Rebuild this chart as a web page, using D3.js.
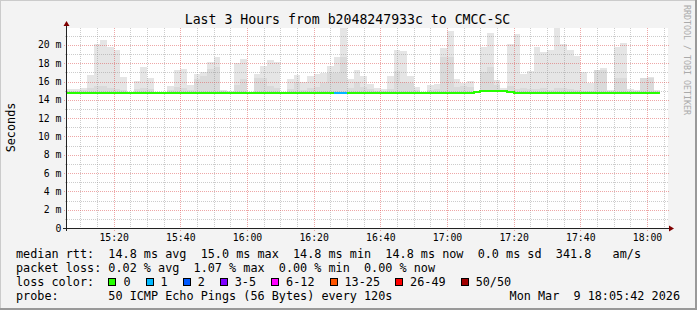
<!DOCTYPE html>
<html>
<head>
<meta charset="utf-8">
<script src="https://cdn.jsdelivr.net/npm/d3@7"></script>
<style>
  html, body { margin: 0; padding: 0; background: #f3f3f3; }
  svg { display: block; }
  text { font-family: "DejaVu Sans Mono", monospace; white-space: pre; }
</style>
</head>
<body>
<script>
// ---- data ----
const title = "Last 3 Hours from b2048247933c to CMCC-SC";
const startTime = new Date(2026, 2, 9, 15, 6, 0);
const endTime = new Date(2026, 2, 9, 18, 6, 0);
const stepMinutes = 2;

// median rtt per 2 min step (ms)
const medianRtt = [
  14.8,14.8,14.8,14.8,14.8,14.8,14.8,14.8,14.8,14.8,
  14.8,14.8,14.8,14.8,14.8,14.8,14.8,14.8,14.8,14.8,
  14.8,14.8,14.8,14.8,14.8,14.8,14.8,14.8,14.8,14.8,
  14.8,14.8,14.8,14.8,14.8,14.8,14.8,14.8,14.8,14.8,
  14.8,14.8,14.8,14.8,14.8,14.8,14.8,14.8,14.8,14.8,
  14.8,14.8,14.8,14.8,14.8,14.8,14.8,14.8,14.8,14.8,
  14.8,14.9,15.0,15.0,15.0,15.0,14.9,14.8,14.8,14.8,
  14.8,14.8,14.8,14.8,14.8,14.8,14.8,14.8,14.8,14.8,
  14.8,14.8,14.8,14.8,14.8,14.8,14.8,14.8,14.8
];

// top of the smoke (slowest ping) per step, ms
const smokeMax = [
  15.19,15.19,15.30,16.72,20.14,20.51,19.78,19.45,16.50,null,
  16.09,17.59,16.39,null,null,15.51,17.26,17.37,15.62,16.83,
  17.04,18.14,18.68,15.11,14.97,18.03,18.46,null,16.83,17.73,
  18.35,18.14,null,16.28,16.72,15.95,16.61,16.83,16.94,17.73,
  18.68,21.85,16.28,17.26,16.61,15.73,15.30,15.19,16.61,19.45,
  19.34,16.61,15.40,null,15.62,15.73,19.67,21.52,16.28,15.84,
  16.06,null,19.78,21.30,16.17,15.30,20.10,21.20,16.83,17.15,
  19.78,19.23,19.45,21.85,20.10,19.45,18.79,17.04,15.84,17.26,
  17.48,15.08,19.78,20.21,15.19,15.08,16.17,16.50,15.08
];

// denser part of the smoke, ms
const smokeMid = [
  15.0,15.0,15.1,15.3,15.5,15.5,15.3,15.2,15.1,null,
  15.2,15.3,15.2,null,null,15.1,15.4,15.3,15.1,16.3,
  16.6,17.4,17.6,14.95,14.9,15.6,16.3,null,16.4,16.4,
  15.5,15.3,null,15.2,15.9,15.1,15.3,15.4,15.8,16.9,
  16.9,18.7,15.3,16.0,15.4,15.2,15.0,15.0,15.2,17.1,
  16.0,15.8,15.1,null,15.1,15.2,18.7,18.7,15.4,15.5,
  15.4,null,17.0,17.6,15.6,15.1,15.5,15.2,15.3,15.2,
  15.2,15.3,15.1,15.3,15.3,15.2,15.1,15.0,15.0,17.3,
  17.3,14.95,16.4,16.4,15.0,14.95,16.4,16.4,14.95
];

// lost pings (of 50) per step
const lossPings = [
  0,0,0,0,0,0,0,0,0,0,
  0,0,0,0,0,0,0,0,0,0,
  0,0,0,0,0,0,0,0,0,0,
  0,0,0,0,0,0,0,0,0,0,
  1,1,0,0,0,0,0,0,0,0,
  0,0,0,0,0,0,0,0,0,0,
  0,0,0,0,0,0,0,0,0,0,
  0,0,0,0,0,0,0,0,0,0,
  0,0,0,0,0,0,0,0,0
];

const lossLabels = ["0", "1", "2", "3-5", "6-12", "13-25", "26-49", "50/50"];
const lossUpper  = [0, 1, 2, 5, 12, 25, 49, 50];
const lossColors = ["#26ff00", "#00b8ff", "#0059ff", "#7e00ff", "#ff00ff", "#ff5500", "#ff0000", "#a10000"];

const yMajorTicks = [0, 2, 4, 6, 8, 10, 12, 14, 16, 18, 20];
const yMinorTicks = [1, 3, 5, 7, 9, 11, 13, 15, 17, 19, 21];
const xTickLabels = ["15:20", "15:40", "16:00", "16:20", "16:40", "17:00", "17:20", "17:40", "18:00"];

const statLine1 = "median rtt:  14.8 ms avg  15.0 ms max  14.8 ms min  14.8 ms now  0.0 ms sd  341.8   am/s";
const statLine2 = "packet loss: 0.02 % avg  1.07 % max  0.00 % min  0.00 % now";
const lossTitle = "loss color:";
const probeLine = "probe:       50 ICMP Echo Pings (56 Bytes) every 120s";
const stampText = "Mon Mar  9 18:05:42 2026";
const watermark = "RRDTOOL / TOBI OETIKER";

// ---- layout ----
const W = 697, H = 310;
const plot = { left: 67, right: 667, top: 28, bottom: 228 };
const cw = 7.11; // legend char advance

const svg = d3.select("body").append("svg").attr("width", W).attr("height", H);

svg.append("rect").attr("width", W).attr("height", H).attr("fill", "#f3f3f3");
// 3d border
svg.append("path").attr("d", `M0,${H} V0 H${W}`).attr("fill", "none").attr("stroke", "#cbcbcb").attr("stroke-width", 2);
svg.append("path").attr("d", `M0,${H - 1} H${W - 1} V0`).attr("fill", "none").attr("stroke", "#999999").attr("stroke-width", 2);

svg.append("rect")
  .attr("x", plot.left).attr("y", plot.top)
  .attr("width", plot.right - plot.left + 1).attr("height", plot.bottom - plot.top)
  .attr("fill", "#ffffff");

const x = d3.scaleTime().domain([startTime, endTime]).range([plot.left, plot.right]);
const y = d3.scaleLinear().domain([0, 21.85]).range([plot.bottom, plot.top]);

const binStart = i => d3.timeMinute.offset(startTime, i * stepMinutes);
const bins = medianRtt.map((m, i) => ({
  i, t0: binStart(i), t1: binStart(i + 1), med: m,
  max: smokeMax[i], mid: smokeMid[i], loss: lossPings[i]
}));

// smoke
const smoke = svg.append("g").attr("shape-rendering", "crispEdges");
smoke.selectAll("rect.outer").data(bins.filter(d => d.max != null)).enter()
  .append("rect").attr("class", "outer")
  .attr("x", d => x(d.t0)).attr("width", d => x(d.t1) - x(d.t0))
  .attr("y", d => y(d.max)).attr("height", d => y(d.med) - y(d.max))
  .attr("fill", "#e5e5e5");
smoke.selectAll("rect.inner").data(bins.filter(d => d.mid != null)).enter()
  .append("rect").attr("class", "inner")
  .attr("x", d => x(d.t0)).attr("width", d => x(d.t1) - x(d.t0))
  .attr("y", d => y(d.mid)).attr("height", d => Math.max(0, y(d.med) - y(d.mid)))
  .attr("fill", "#dadada");

// grid
const grid = svg.append("g").attr("shape-rendering", "crispEdges").attr("fill", "none");
const minorCol = "rgba(143,143,143,0.45)", majorCol = "rgba(222,80,80,0.5)";

const xMinor = d3.timeMinute.every(5).range(d3.timeMinute.offset(startTime, 1), endTime)
  .filter(t => t.getMinutes() % 20 !== 0);
const xMajor = d3.timeMinute.every(20).range(startTime, endTime);

grid.selectAll("line.ymin").data(yMinorTicks.filter(v => y(v) >= plot.top)).enter().append("line")
  .attr("x1", plot.left - 2).attr("x2", plot.right + 2)
  .attr("y1", d => Math.round(y(d)) + 0.5).attr("y2", d => Math.round(y(d)) + 0.5)
  .attr("stroke", minorCol).attr("stroke-dasharray", "1,1");
grid.selectAll("line.xmin").data(xMinor).enter().append("line")
  .attr("x1", d => Math.round(x(d)) + 0.5).attr("x2", d => Math.round(x(d)) + 0.5)
  .attr("y1", plot.top).attr("y2", plot.bottom + 2)
  .attr("stroke", minorCol).attr("stroke-dasharray", "1,1");
grid.selectAll("line.ymaj").data(yMajorTicks.filter(v => v > 0)).enter().append("line")
  .attr("x1", plot.left - 3).attr("x2", plot.right + 2)
  .attr("y1", d => Math.round(y(d)) + 0.5).attr("y2", d => Math.round(y(d)) + 0.5)
  .attr("stroke", majorCol).attr("stroke-dasharray", "1,1");
grid.selectAll("line.xmaj").data(xMajor).enter().append("line")
  .attr("x1", d => Math.round(x(d)) + 0.5).attr("x2", d => Math.round(x(d)) + 0.5)
  .attr("y1", plot.top).attr("y2", plot.bottom + 4)
  .attr("stroke", majorCol).attr("stroke-dasharray", "1,1");

// median line, coloured by loss
const lossColor = n => lossColors[lossUpper.findIndex(u => n <= u)];
const runs = [];
bins.forEach(d => {
  const c = lossColor(d.loss);
  if (runs.length && runs[runs.length - 1].color === c) runs[runs.length - 1].pts.push(d);
  else runs.push({ color: c, pts: [d] });
});
const medLine = d3.line().x(p => x(p[0])).y(p => y(p[1])).curve(d3.curveStepAfter);
svg.append("g").selectAll("path").data(runs).enter().append("path")
  .attr("d", r => {
    const pts = r.pts.map(d => [d.t0, d.med]);
    const last = r.pts[r.pts.length - 1];
    pts.push([last.t1, last.med]);
    return medLine(pts);
  })
  .attr("fill", "none").attr("stroke", r => r.color).attr("stroke-width", 2)
  .attr("shape-rendering", "crispEdges");

// axes
const axisCol = "#222";
svg.append("line").attr("x1", plot.left - 0.5).attr("x2", plot.left - 0.5)
  .attr("y1", plot.bottom + 3).attr("y2", plot.top - 3)
  .attr("stroke", axisCol).attr("shape-rendering", "crispEdges");
svg.append("line").attr("x1", plot.left - 4).attr("x2", plot.right + 2)
  .attr("y1", plot.bottom + 0.5).attr("y2", plot.bottom + 0.5)
  .attr("stroke", axisCol).attr("shape-rendering", "crispEdges");
svg.append("path")
  .attr("d", `M${plot.left - 3.5},${plot.top - 2} L${plot.left + 2.5},${plot.top - 2} L${plot.left - 0.5},${plot.top - 7} Z`)
  .attr("fill", "#7f0000");
svg.append("path")
  .attr("d", `M${plot.right + 2},${plot.bottom - 2.5} L${plot.right + 2},${plot.bottom + 3.5} L${plot.right + 7},${plot.bottom + 0.5} Z`)
  .attr("fill", "#7f0000");

// axis labels
svg.append("g").selectAll("text").data(yMajorTicks).enter().append("text")
  .attr("x", 61.5).attr("y", d => y(d) + 3.5)
  .attr("text-anchor", "end").attr("font-size", "9.8px").attr("fill", "#000")
  .text(d => d === 0 ? "0" : d + " m");
svg.append("g").selectAll("text").data(xMajor).enter().append("text")
  .attr("x", d => x(d) + 0.5).attr("y", 240.5)
  .attr("text-anchor", "middle").attr("font-size", "9.8px").attr("fill", "#000")
  .text((d, i) => xTickLabels[i]);

svg.append("text")
  .attr("transform", "translate(15,127.5) rotate(-90)")
  .attr("text-anchor", "middle").attr("font-size", "11.8px").text("Seconds");

svg.append("text")
  .attr("x", 347.5).attr("y", 24)
  .attr("text-anchor", "middle").attr("font-size", "13.2px").text(title);

svg.append("text")
  .attr("transform", "translate(683.5,5) rotate(90)")
  .attr("font-size", "8.3px").attr("fill", "#aaaaaa").text(watermark);

// legend
const legend = svg.append("g").attr("font-size", "11.8px").attr("fill", "#000");
legend.append("text").attr("x", 16).attr("y", 257.5).text(statLine1);
legend.append("text").attr("x", 16).attr("y", 271.5).text(statLine2);
legend.append("text").attr("x", 16).attr("y", 285.5).text(lossTitle);
legend.append("text").attr("x", 16).attr("y", 299.5).text(probeLine);
legend.append("text").attr("x", 680).attr("y", 299.5).attr("text-anchor", "end").text(stampText);

let cursor = 16 + 13 * cw;
lossLabels.forEach((lab, i) => {
  legend.append("rect")
    .attr("x", Math.round(cursor) + 0.5).attr("y", 278.5).attr("width", 7).attr("height", 7)
    .attr("fill", lossColors[i]).attr("stroke", "#000").attr("shape-rendering", "crispEdges");
  legend.append("text").attr("x", cursor + 15).attr("y", 285.5).text(lab);
  cursor += 15 + lab.length * cw + 15;
});
</script>
</body>
</html>
